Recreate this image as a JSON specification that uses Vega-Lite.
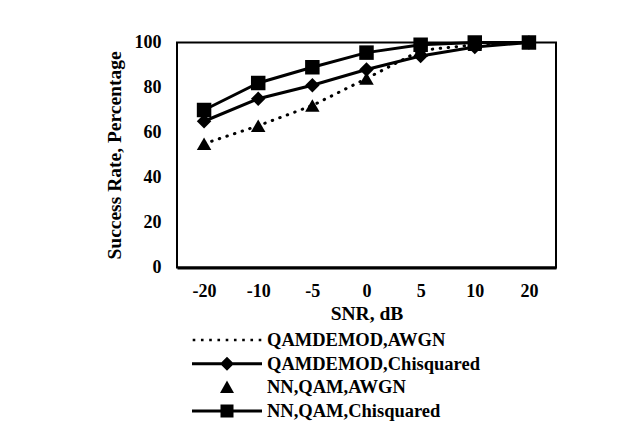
{
  "$schema": "https://vega.github.io/schema/vega-lite/v6.json",
  "width": 379,
  "height": 225,
  "autosize": "none",
  "padding": {"left": 177, "top": 42.5, "right": 81, "bottom": 160.5},
  "background": "white",
  "config": {
    "font": "Liberation Serif",
    "view": {"stroke": "black", "strokeWidth": 2},
    "axis": {
      "grid": false,
      "ticks": false,
      "tickSize": 0,
      "labelFont": "Liberation Serif",
      "labelFontWeight": "bold",
      "labelFontSize": 18,
      "labelColor": "black",
      "titleFont": "Liberation Serif",
      "titleFontWeight": "bold",
      "titleFontSize": 19.5,
      "titleColor": "black"
    }
  },
  "data": {
    "values": [
      {"series": "QAMDEMOD,AWGN", "snr": "-20", "rate": 55},
      {"series": "QAMDEMOD,AWGN", "snr": "-10", "rate": 63},
      {"series": "QAMDEMOD,AWGN", "snr": "-5", "rate": 72},
      {"series": "QAMDEMOD,AWGN", "snr": "0", "rate": 84},
      {"series": "QAMDEMOD,AWGN", "snr": "5", "rate": 96.5},
      {"series": "QAMDEMOD,AWGN", "snr": "10", "rate": 99},
      {"series": "QAMDEMOD,AWGN", "snr": "20", "rate": 100},
      {"series": "QAMDEMOD,Chisquared", "snr": "-20", "rate": 65},
      {"series": "QAMDEMOD,Chisquared", "snr": "-10", "rate": 75},
      {"series": "QAMDEMOD,Chisquared", "snr": "-5", "rate": 81},
      {"series": "QAMDEMOD,Chisquared", "snr": "0", "rate": 88},
      {"series": "QAMDEMOD,Chisquared", "snr": "5", "rate": 94},
      {"series": "QAMDEMOD,Chisquared", "snr": "10", "rate": 98},
      {"series": "QAMDEMOD,Chisquared", "snr": "20", "rate": 100},
      {"series": "NN,QAM,AWGN", "snr": "-20", "rate": 55},
      {"series": "NN,QAM,AWGN", "snr": "-10", "rate": 63},
      {"series": "NN,QAM,AWGN", "snr": "-5", "rate": 72},
      {"series": "NN,QAM,AWGN", "snr": "0", "rate": 84},
      {"series": "NN,QAM,AWGN", "snr": "5", "rate": 96.5},
      {"series": "NN,QAM,AWGN", "snr": "10", "rate": 99},
      {"series": "NN,QAM,AWGN", "snr": "20", "rate": 100},
      {"series": "NN,QAM,Chisquared", "snr": "-20", "rate": 70},
      {"series": "NN,QAM,Chisquared", "snr": "-10", "rate": 82},
      {"series": "NN,QAM,Chisquared", "snr": "-5", "rate": 89},
      {"series": "NN,QAM,Chisquared", "snr": "0", "rate": 95.5},
      {"series": "NN,QAM,Chisquared", "snr": "5", "rate": 99},
      {"series": "NN,QAM,Chisquared", "snr": "10", "rate": 100},
      {"series": "NN,QAM,Chisquared", "snr": "20", "rate": 100}
    ]
  },
  "encoding": {
    "x": {
      "field": "snr",
      "type": "ordinal",
      "sort": ["-20", "-10", "-5", "0", "5", "10", "20"],
      "scale": {"type": "point", "padding": 0.5},
      "axis": {
        "title": "SNR, dB",
        "labelAngle": 0,
        "labelPadding": 15,
        "titlePadding": 4,
        "domain": true,
        "domainColor": "black",
        "domainWidth": 3
      }
    },
    "y": {
      "field": "rate",
      "type": "quantitative",
      "scale": {"domain": [0, 100], "nice": false},
      "axis": {
        "title": "Success Rate, Percentage",
        "values": [0, 20, 40, 60, 80, 100],
        "labelPadding": 16,
        "titlePadding": 10,
        "domain": false
      }
    }
  },
  "resolve": {"scale": {"shape": "independent"}, "legend": {"shape": "independent"}},
  "layer": [
    {
      "transform": [{"filter": "datum.series == 'QAMDEMOD,AWGN'"}],
      "mark": {"type": "line", "color": "black", "strokeWidth": 3, "strokeCap": "round", "strokeDash": [0.5, 7.5]},
      "encoding": {}
    },
    {
      "transform": [{"filter": "datum.series == 'QAMDEMOD,Chisquared' || datum.series == 'NN,QAM,Chisquared'"}],
      "mark": {"type": "line", "color": "black", "strokeWidth": 3},
      "encoding": {"detail": {"field": "series", "type": "nominal"}}
    },
    {
      "transform": [{"filter": "datum.series != 'QAMDEMOD,AWGN'"}],
      "mark": {"type": "point", "filled": true, "color": "black", "opacity": 1, "size": 210},
      "encoding": {
        "shape": {
          "field": "series",
          "type": "nominal",
          "scale": {
            "domain": ["QAMDEMOD,Chisquared", "NN,QAM,AWGN", "NN,QAM,Chisquared"],
            "range": ["diamond", "triangle-up", "square"]
          },
          "legend": null
        }
      }
    },
    {
      "mark": {"type": "point", "filled": true, "color": "black", "size": 0},
      "encoding": {
        "shape": {
          "field": "series",
          "type": "nominal",
          "scale": {
            "domain": ["QAMDEMOD,AWGN", "QAMDEMOD,Chisquared", "NN,QAM,AWGN", "NN,QAM,Chisquared"],
            "range": [
              "M-3.43,-0.13h0.26v0.26h-0.26ZM-2.605,-0.13h0.26v0.26h-0.26ZM-1.78,-0.13h0.26v0.26h-0.26ZM-0.955,-0.13h0.26v0.26h-0.26ZM-0.13,-0.13h0.26v0.26h-0.26ZM0.695,-0.13h0.26v0.26h-0.26ZM1.52,-0.13h0.26v0.26h-0.26ZM2.345,-0.13h0.26v0.26h-0.26ZM3.17,-0.13h0.26v0.26h-0.26Z",
              "M-3.5,-0.15h7v0.3h-7ZM0,-0.7L0.7,0L0,0.7L-0.7,0Z",
              "M0,-0.7L0.7,0.55L-0.7,0.55Z",
              "M-3.5,-0.15h7v0.3h-7ZM-0.65,-0.65h1.3v1.3h-1.3Z"
            ]
          },
          "legend": {
            "title": null,
            "orient": "none",
            "legendX": 13,
            "legendY": 287.5,
            "padding": 0,
            "symbolSize": 400,
            "symbolStrokeWidth": 0,
            "symbolOpacity": 1,
            "symbolOffset": 27,
            "labelOffset": 30,
            "rowPadding": 3.7,
            "labelFont": "Liberation Serif",
            "labelFontWeight": "bold",
            "labelFontSize": 18.5,
            "labelColor": "black",
            "labelLimit": 400
          }
        }
      }
    }
  ]
}
